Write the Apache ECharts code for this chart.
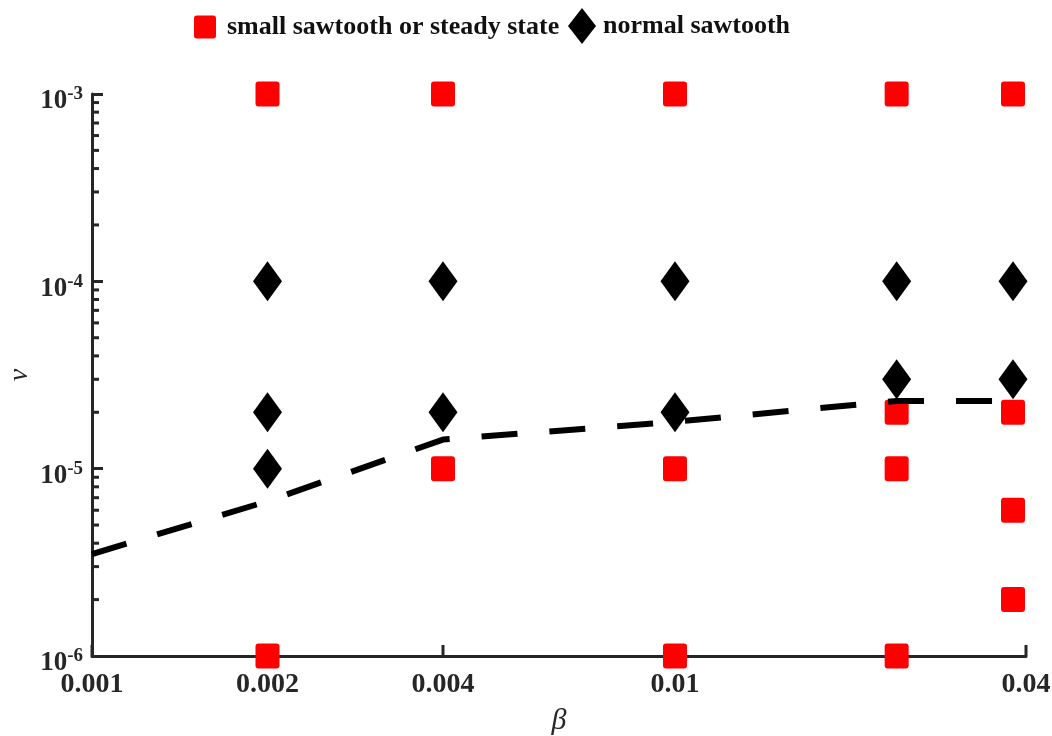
<!DOCTYPE html>
<html><head><meta charset="utf-8">
<script src="https://cdn.jsdelivr.net/npm/echarts@6/dist/echarts.min.js"></script>
<style>html,body{margin:0;padding:0;background:#fff}#c{width:1052px;height:736px}</style>
</head><body><div id="c"></div>
<script>
const FONT = '"Liberation Serif", "Times New Roman", serif';
const AXIS_COLOR = '#262626';
const X_MIN = 0.001, X_MAX = 0.04;
const Y_MIN = 1e-6, Y_MAX = 1e-3;

const xTicks = [0.001, 0.002, 0.004, 0.01, 0.04];
const xTickLabels = ['0.001', '0.002', '0.004', '0.01', '0.04'];
const yMinorTicks = [2e-6, 3e-6, 4e-6, 5e-6, 6e-6, 7e-6, 8e-6, 9e-6,
                     2e-5, 3e-5, 4e-5, 5e-5, 6e-5, 7e-5, 8e-5, 9e-5,
                     2e-4, 3e-4, 4e-4, 5e-4, 6e-4, 7e-4, 8e-4, 9e-4];

const smallBeta = [0.002, 0.002, 0.004, 0.004, 0.01, 0.01, 0.01, 0.024, 0.024, 0.024, 0.024, 0.038, 0.038, 0.038, 0.038];
const smallNu   = [1e-3, 1e-6, 1e-3, 1e-5, 1e-3, 1e-5, 1e-6, 1e-3, 2e-5, 1e-5, 1e-6, 1e-3, 2e-5, 6e-6, 2e-6];

const normalBeta = [0.002, 0.002, 0.002, 0.004, 0.004, 0.01, 0.01, 0.024, 0.024, 0.038, 0.038];
const normalNu   = [1e-4, 2e-5, 1e-5, 1e-4, 2e-5, 1e-4, 2e-5, 1e-4, 3e-5, 1e-4, 3e-5];

const boundaryBeta = [0.001, 0.002, 0.004, 0.01, 0.024, 0.038];
const boundaryNu   = [3.5e-6, 6.7e-6, 1.43e-5, 1.78e-5, 2.3e-5, 2.3e-5];

const SQUARE = 'path://M3,0H21Q24,0 24,3V22Q24,25 21,25H3Q0,25 0,22V3Q0,0 3,0Z';

const chart = echarts.init(document.getElementById('c'), null, {renderer: 'canvas'});
const zip = (a, b) => a.map((v, i) => [v, b[i]]);

chart.setOption({
  animation: false,
  backgroundColor: '#fff',
  grid: {left: 92, right: 26, top: 94, bottom: 80, outerBoundsMode: 'none', containLabel: false},
  legend: [
    {
      data: [{name: 'small sawtooth or steady state', icon: SQUARE}],
      left: 194, top: 14, padding: 0, itemWidth: 22, itemHeight: 23,
      itemStyle: {opacity: 1},
      textStyle: {fontFamily: FONT, fontWeight: 'bold', fontSize: 26, color: '#111', padding: [3, 0, 0, 6]}
    },
    {
      data: [{name: 'normal sawtooth', icon: 'diamond'}],
      left: 568, top: 8, padding: 0, itemWidth: 28, itemHeight: 36,
      itemStyle: {opacity: 1},
      textStyle: {fontFamily: FONT, fontWeight: 'bold', fontSize: 26, color: '#111', padding: [3, 0, 0, 2]}
    }
  ],
  xAxis: {
    type: 'log', logBase: 10, min: X_MIN, max: X_MAX,
    name: 'β', nameLocation: 'middle', nameGap: 50, nameMoveOverlap: false,
    nameTextStyle: {fontFamily: FONT, fontStyle: 'italic', fontSize: 30, color: AXIS_COLOR},
    axisLine: {show: true, lineStyle: {color: AXIS_COLOR, width: 3}},
    axisTick: {show: false}, axisLabel: {show: false}, splitLine: {show: false}, minorTick: {show: false}
  },
  yAxis: {
    type: 'log', logBase: 10, min: Y_MIN, max: Y_MAX, splitNumber: 3,
    name: 'ν', nameLocation: 'middle', nameRotate: 90, nameGap: 58, nameMoveOverlap: false,
    nameTextStyle: {fontFamily: FONT, fontStyle: 'italic', fontSize: 28, color: AXIS_COLOR},
    axisLine: {show: true, lineStyle: {color: AXIS_COLOR, width: 3}},
    axisTick: {show: true, inside: true, length: 11, lineStyle: {color: AXIS_COLOR, width: 3}},
    splitLine: {show: false},
    axisLabel: {
      margin: 9,
      padding: [12, 0, 0, 0],
      formatter: v => '{a|10}{b|' + Math.round(Math.log10(v)) + '}',
      rich: {
        a: {fontFamily: FONT, fontWeight: 'bold', fontSize: 27, color: AXIS_COLOR, padding: [3, 0, 0, 0]},
        b: {fontFamily: FONT, fontWeight: 'bold', fontSize: 19, color: AXIS_COLOR, verticalAlign: 'top'}
      }
    }
  },
  series: [
    {
      type: 'custom', z: 1, silent: true, clip: false,
      data: xTicks.map((v, i) => [v, Y_MIN, i]),
      renderItem: (params, api) => {
        const p = api.coord([api.value(0), Y_MIN]);
        const label = xTickLabels[api.value(2)];
        return {type: 'group', children: [
          {type: 'line', shape: {x1: p[0], y1: p[1], x2: p[0], y2: p[1] - 11}, style: {stroke: AXIS_COLOR, lineWidth: 3}},
          {type: 'text', x: p[0], y: p[1] + 15, style: {text: label, align: 'center', verticalAlign: 'top',
            font: 'bold 28px "Liberation Serif"', fill: AXIS_COLOR}}
        ]};
      }
    },
    {
      type: 'custom', z: 1, silent: true, clip: false,
      data: yMinorTicks.map(v => [X_MIN, v]),
      renderItem: (params, api) => {
        const p = api.coord([X_MIN, api.value(1)]);
        return {type: 'line', shape: {x1: p[0], y1: p[1], x2: p[0] + 7, y2: p[1]}, style: {stroke: AXIS_COLOR, lineWidth: 3}};
      }
    },
    {
      name: 'small sawtooth or steady state', type: 'scatter', z: 2,
      symbol: SQUARE, symbolSize: [24, 25], itemStyle: {color: '#ff0000', opacity: 1},
      data: zip(smallBeta, smallNu)
    },
    {
      name: 'normal sawtooth', type: 'scatter', z: 3,
      symbol: 'diamond', symbolSize: [29, 40], itemStyle: {color: '#000', opacity: 1},
      data: zip(normalBeta, normalNu)
    },
    {
      type: 'line', z: 4, silent: true, showSymbol: false, symbol: 'none',
      lineStyle: {color: '#000', width: 6, type: [36, 32], cap: 'butt'},
      data: zip(boundaryBeta, boundaryNu)
    }
  ]
});
</script>
</body></html>
